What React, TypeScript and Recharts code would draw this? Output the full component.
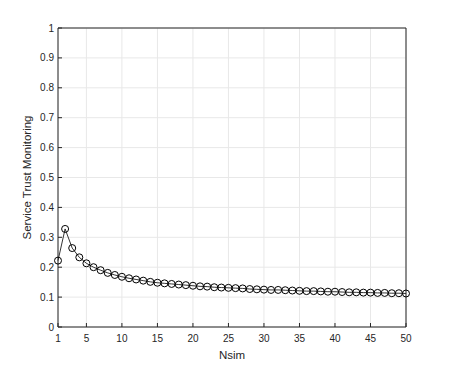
import { LineChart, Line, XAxis, YAxis, CartesianGrid } from 'recharts';

// Nsim runs 1..50
const nsim = [
  1, 2, 3, 4, 5, 6, 7, 8, 9, 10, 11, 12, 13, 14, 15, 16, 17, 18, 19, 20, 21, 22, 23, 24, 25,
  26, 27, 28, 29, 30, 31, 32, 33, 34, 35, 36, 37, 38, 39, 40, 41, 42, 43, 44, 45, 46, 47, 48, 49, 50,
];
const trust = [
  0.222, 0.328, 0.264, 0.233, 0.213, 0.2, 0.19, 0.181, 0.174, 0.168, 0.163, 0.159, 0.155, 0.151, 0.148,
  0.146, 0.144, 0.142, 0.14, 0.138, 0.136, 0.135, 0.133, 0.132, 0.131, 0.13, 0.129, 0.127, 0.126, 0.125,
  0.124, 0.124, 0.123, 0.122, 0.121, 0.12, 0.12, 0.119, 0.118, 0.118, 0.117, 0.116, 0.116, 0.115, 0.115,
  0.114, 0.114, 0.113, 0.113, 0.112,
];
const xTicks = [1, 5, 10, 15, 20, 25, 30, 35, 40, 45, 50];
const yTicks = [0, 0.1, 0.2, 0.3, 0.4, 0.5, 0.6, 0.7, 0.8, 0.9, 1];

const data = nsim.map((n, i) => ({ n, v: trust[i] }));

const axisColor = '#262626';
const font = 'Liberation Sans, Arial, sans-serif';
const tickStyle = { fontSize: 10, fill: axisColor, fontFamily: font };

export default function App() {
  return (
    <div style={{ position: 'absolute', left: 0, top: 0, width: 449, height: 368, background: '#fff' }}>
      <LineChart width={449} height={368} data={data} margin={{ top: 27, right: 42, left: 0, bottom: 0 }}>
        <CartesianGrid stroke="#e8e8e8" strokeWidth={1} />
        <XAxis
          dataKey="n"
          type="number"
          domain={[1, 50]}
          ticks={xTicks}
          height={41}
          stroke={axisColor}
          tickSize={-4}
          tickMargin={12}
          tick={tickStyle}
          label={{ value: 'Nsim', position: 'insideBottom', offset: 9, style: { fontSize: 11.5, fill: axisColor, fontFamily: font } }}
        />
        <XAxis
          xAxisId="top"
          orientation="top"
          dataKey="n"
          type="number"
          domain={[1, 50]}
          ticks={xTicks}
          height={1}
          stroke={axisColor}
          tickSize={-4}
          tick={false}
        />
        <YAxis
          type="number"
          domain={[0, 1]}
          ticks={yTicks}
          width={58}
          stroke={axisColor}
          tickSize={-4}
          tickMargin={8}
          tick={tickStyle}
          label={{ value: 'Service Trust Monitoring', angle: -90, position: 'insideLeft', offset: 27, style: { textAnchor: 'middle', fontSize: 11.5, fill: axisColor, fontFamily: font } }}
        />
        <YAxis
          yAxisId="right"
          orientation="right"
          type="number"
          domain={[0, 1]}
          ticks={yTicks}
          width={1}
          stroke={axisColor}
          tickSize={-4}
          tick={false}
        />
        <Line
          dataKey="v"
          type="linear"
          stroke="#000"
          strokeWidth={0.8}
          dot={{ r: 3.5, stroke: '#000', strokeWidth: 1, fill: 'none' }}
          activeDot={false}
          isAnimationActive={false}
        />
      </LineChart>
    </div>
  );
}
